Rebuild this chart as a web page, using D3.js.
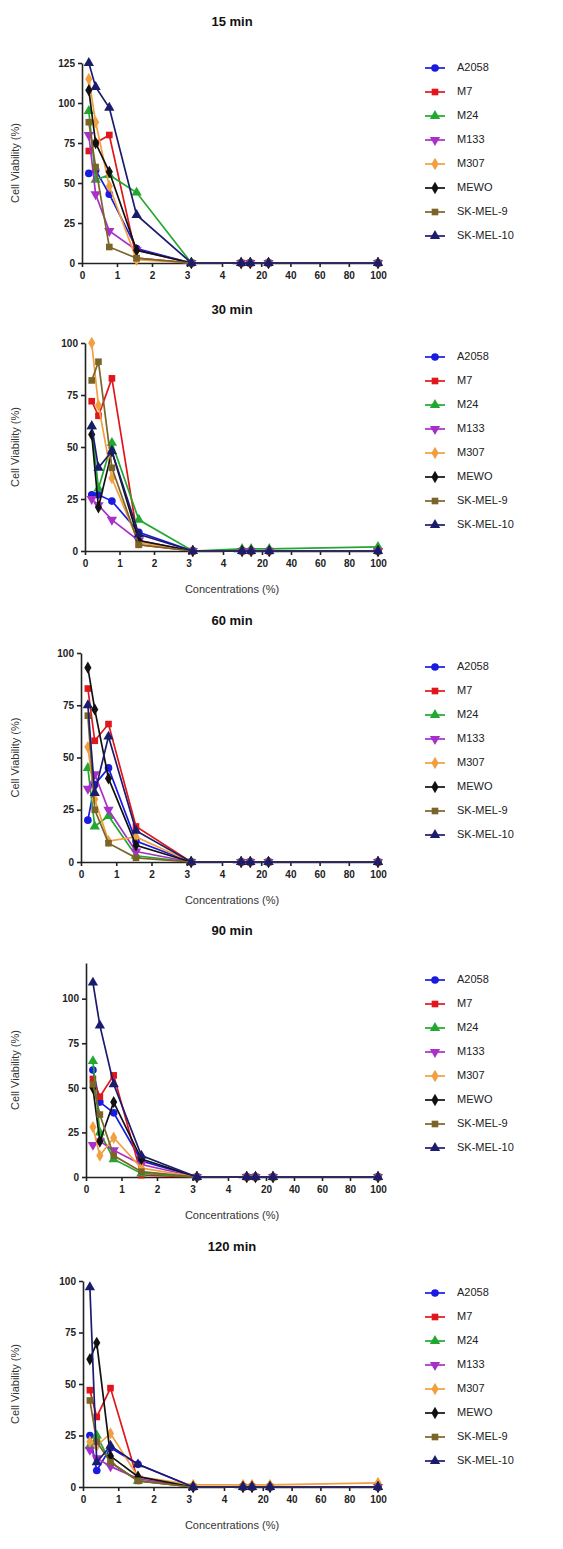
<!DOCTYPE html>
<html><head><meta charset="utf-8">
<script src="https://cdn.jsdelivr.net/npm/d3@7"></script>
<style>body{margin:0;background:#fff}svg{display:block}text{font-family:"Liberation Sans",Arial,sans-serif}</style>
</head><body><svg id="c" width="563" height="1549"></svg>
<script>
const concentrations = [0.195, 0.39, 0.78, 1.56, 3.125, 6.25, 12.5, 25, 100];
const seriesNames = ["A2058","M7","M24","M133","M307","MEWO","SK-MEL-9","SK-MEL-10"];
const seriesColors = ["#1a1ae0","#e0161c","#22a830","#a830c8","#f0a040","#111111","#7a6428","#1c1c6e"];
const seriesShapes = ["circle","square","triangle","triangleDown","diamond","diamond","square","triangle"];
const panelTitles = ["15 min","30 min","60 min","90 min","120 min"];
const xTicksLow = [0,1,2,3,4];
const xTicksHigh = [20,40,60,80,100];

// values per panel, one row per series (order = seriesNames)
const min15 = [
 [56,58,43,9,0,0,0,0,0],
 [70,75,80,3,0,0,0,0,0],
 [95,52,55,44,0,0,0,0,0],
 [80,43,20,8,0,0,0,0,0],
 [115,88,48,2,0,0,0,0,0],
 [108,75,57,8,0,0,0,0,0],
 [88,60,10,3,0,0,0,0,0],
 [125,110,97,30,0,0,0,0,0]
];
const min30 = [
 [27,27,24,9,0,0,0,0,0],
 [72,65,83,3,0,0,0,0,0],
 [60,30,52,15,0,1,1,1,2],
 [25,22,15,5,0,0,0,0,0],
 [100,70,35,4,0,0,0,0,0],
 [56,21,48,5,0,0,0,0,0],
 [82,91,40,3,0,0,0,0,0],
 [60,40,48,8,0,0,0,0,0]
];
const min60 = [
 [20,37,45,10,0,0,0,0,0],
 [83,58,66,17,0,0,0,0,0],
 [45,17,22,3,0,0,0,0,0],
 [35,42,25,5,0,0,0,0,0],
 [55,30,10,12,0,0,0,0,0],
 [93,73,40,8,0,0,0,0,0],
 [70,25,9,2,0,0,0,0,0],
 [75,33,60,15,0,0,0,0,0]
];
const min90 = [
 [60,42,36,9,0,0,0,0,0],
 [55,45,57,1,0,0,0,0,0],
 [65,25,10,2,0,0,0,0,0],
 [18,20,15,7,0,0,0,0,0],
 [28,12,22,5,0,0,0,0,0],
 [50,20,42,10,0,0,0,0,0],
 [52,35,12,3,0,0,0,0,0],
 [109,85,52,12,0,0,0,0,0]
];
const min120 = [
 [25,8,19,11,0,0,0,0,0],
 [47,34,48,3,0,0,0,0,0],
 [20,25,12,3,0,0,0,0,0],
 [18,14,10,4,0,0,0,0,0],
 [22,20,26,5,1,1,1,1,2],
 [62,70,15,5,0,0,0,0,0],
 [42,22,12,3,0,0,0,0,0],
 [97,12,20,11,0,0,0,0,0]
];
const panelValues = [min15, min30, min60, min90, min120];

// layout (pixel geometry only)
const layout = [
 {title:23, y0:263, yTop:63, ymax:125, yTicks:[0,25,50,75,100,125], x0:82, x4:222, xl:false, leg:68},
 {title:311, y0:551, yTop:343, ymax:100, yTicks:[0,25,50,75,100], x0:85, x4:223, xl:true, leg:357},
 {title:622, y0:862, yTop:653, ymax:100, yTicks:[0,25,50,75,100], x0:81, x4:222, xl:true, leg:667},
 {title:932, y0:1177, yTop:963, ymax:120, yTicks:[0,25,50,75,100], x0:86, x4:228, xl:true, leg:980},
 {title:1248, y0:1487, yTop:1281, ymax:100, yTicks:[0,25,50,75,100], x0:83, x4:224, xl:true, leg:1293}
];

const svg = d3.select("#c");
const fmt = d3.format("d");
function sym(shape){
  const sizes = {circle:46, square:44, triangle:46, triangleDown:46, diamond:44};
  const t = {circle:d3.symbolCircle, square:d3.symbolSquare, triangle:d3.symbolTriangle, triangleDown:d3.symbolTriangle, diamond:d3.symbolDiamond}[shape];
  return d3.symbol().type(t).size(sizes[shape])();
}

panelValues.forEach((vals, p) => {
  const L = layout[p];
  const g = svg.append("g");
  const y = d3.scaleLinear().domain([0, L.ymax]).range([L.y0, L.yTop]);
  const xa = d3.scaleLinear().domain([0,4]).range([L.x0, L.x4]);
  const xb = d3.scaleLinear().domain([0,100]).range([L.x4 + 10, 378]);
  const x = v => v <= 4 ? xa(v) : xb(v);

  g.append("text").attr("x", 232).attr("y", L.title).attr("text-anchor","middle")
   .attr("dominant-baseline","middle").attr("font-size", 13).attr("font-weight","bold").attr("fill","#111").text(panelTitles[p]);

  // y axis
  const ya = g.append("g").attr("transform", `translate(${L.x0},0)`)
    .call(d3.axisLeft(y).tickValues(L.yTicks).tickFormat(fmt).tickSize(4).tickSizeOuter(0));
  ya.selectAll("text").attr("font-size", 10).attr("font-weight","bold").attr("fill","#222");
  ya.selectAll("line,path").attr("stroke","#222").attr("stroke-width",1.6);

  // x axes (two segments)
  const xaG = g.append("g").attr("transform", `translate(0,${L.y0})`)
    .call(d3.axisBottom(xa).tickValues(xTicksLow).tickFormat(fmt).tickSize(4).tickSizeOuter(0));
  const xbG = g.append("g").attr("transform", `translate(0,${L.y0})`)
    .call(d3.axisBottom(xb).tickValues(xTicksHigh).tickFormat(fmt).tickSize(4).tickSizeOuter(0));
  [xaG, xbG].forEach(a => {
    a.selectAll("text").attr("font-size", 10).attr("font-weight","bold").attr("fill","#222").attr("dy","0.9em");
    a.selectAll("line,path").attr("stroke","#222").attr("stroke-width",1.6);
  });

  g.append("text").attr("transform", `translate(16,${(L.y0 + L.yTop)/2}) rotate(-90)`)
   .attr("text-anchor","middle").attr("dominant-baseline","middle").attr("font-size", 11).attr("fill","#333")
   .text("Cell Viability (%)");
  if (L.xl) {
    g.append("text").attr("x", 232).attr("y", L.y0 + 42).attr("text-anchor","middle")
     .attr("font-size", 11).attr("fill","#333").text("Concentrations (%)");
  }

  const line = d3.line().x((d,i) => x(concentrations[i])).y(d => y(d));
  vals.forEach((row, s) => {
    g.append("path").datum(row).attr("d", line).attr("fill","none")
     .attr("stroke", seriesColors[s]).attr("stroke-width", 1.7);
    g.selectAll(null).data(row).enter().append("path")
     .attr("d", sym(seriesShapes[s]))
     .attr("transform", (d,i) => `translate(${x(concentrations[i])},${y(d)})${seriesShapes[s]==="triangleDown"?" rotate(180)":""}`)
     .attr("fill", seriesColors[s]);
  });

  // legend
  const lg = g.append("g").attr("transform", `translate(425,${L.leg})`);
  seriesNames.forEach((n, s) => {
    const r = lg.append("g").attr("transform", `translate(0,${s*24})`);
    r.append("line").attr("x1",0).attr("x2",20).attr("stroke",seriesColors[s]).attr("stroke-width",1.7);
    r.append("path").attr("d", sym(seriesShapes[s]))
     .attr("transform", `translate(10,0)${seriesShapes[s]==="triangleDown"?" rotate(180)":""}`).attr("fill", seriesColors[s]);
    r.append("text").attr("x", 32).attr("y", 0).attr("dominant-baseline","middle")
     .attr("font-size", 11).attr("fill","#222").text(n);
  });
});
</script></body></html>
